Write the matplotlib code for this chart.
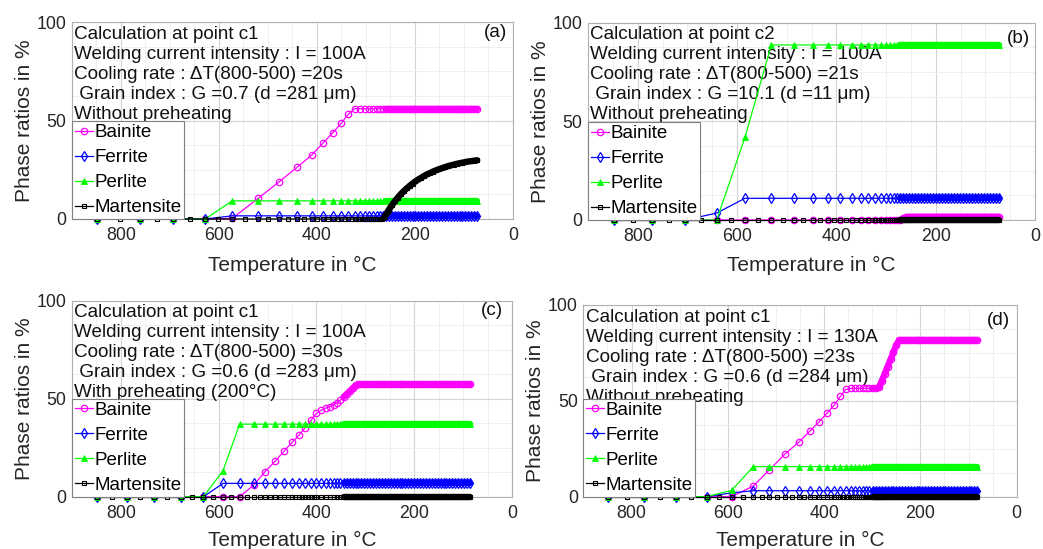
import matplotlib
matplotlib.use('Agg')
import matplotlib.pyplot as plt
from matplotlib.ticker import MultipleLocator

plt.rcParams['font.family'] = ['Liberation Sans', 'DejaVu Sans']

# ---------------- Panel (a) ----------------
T_a = [849, 761, 693, 628, 573, 520, 477, 441, 411, 387,
       367, 350, 336, 323, 312, 302, 293, 285, 278, 271,
       265, 259, 253, 247, 241, 235, 229, 223, 217, 211,
       205, 199, 193, 187, 181, 175, 169, 163, 157, 151,
       145, 139, 133, 127, 121, 115, 109, 103, 97, 91,
       85, 79, 73]
bainite_a = [0, 0, 0, 0, 0.3, 10.5, 18.9, 26.2, 32.4, 38.7,
             43.9, 48.8, 53.2, 56, 56, 56, 56, 56, 56, 56,
             56, 56, 56, 56, 56, 56, 56, 56, 56, 56,
             56, 56, 56, 56, 56, 56, 56, 56, 56, 56,
             56, 56, 56, 56, 56, 56, 56, 56, 56, 56,
             56, 56, 56]
ferrite_a = [0, 0, 0, 0, 1.6, 1.6, 1.6, 1.6, 1.6, 1.6,
             1.6, 1.6, 1.6, 1.6, 1.6, 1.6, 1.6, 1.6, 1.6, 1.6,
             1.6, 1.6, 1.6, 1.6, 1.6, 1.6, 1.6, 1.6, 1.6, 1.6,
             1.6, 1.6, 1.6, 1.6, 1.6, 1.6, 1.6, 1.6, 1.6, 1.6,
             1.6, 1.6, 1.6, 1.6, 1.6, 1.6, 1.6, 1.6, 1.6, 1.6,
             1.6, 1.6, 1.6]
perlite_a = [0, 0, 0, 0, 9.2, 9.2, 9.2, 9.2, 9.2, 9.2,
             9.2, 9.2, 9.2, 9.2, 9.2, 9.2, 9.2, 9.2, 9.2, 9.2,
             9.2, 9.2, 9.2, 9.2, 9.2, 9.2, 9.2, 9.2, 9.2, 9.2,
             9.2, 9.2, 9.2, 9.2, 9.2, 9.2, 9.2, 9.2, 9.2, 9.2,
             9.2, 9.2, 9.2, 9.2, 9.2, 9.2, 9.2, 9.2, 9.2, 9.2,
             9.2, 9.2, 9.2]
Tm_a = [849, 801, 761, 727, 693, 660, 628, 601, 573, 547,
        520, 499, 477, 459, 441, 426, 411, 399, 387, 377,
        367, 358, 350, 343, 336, 329, 323, 317, 312, 307,
        302, 297, 293, 289, 285, 281, 278, 274, 271, 268,
        265, 262, 259, 256, 253, 247, 241, 235, 229, 223,
        217, 211, 205, 199, 193, 187, 181, 175, 169, 163,
        157, 151, 145, 139, 133, 127, 121, 115, 109, 103,
        97, 91, 85, 79, 73]
martensite_a = [0, 0, 0, 0, 0, 0, 0, 0, 0, 0,
                0, 0, 0, 0, 0, 0, 0, 0, 0, 0,
                0, 0, 0, 0, 0, 0, 0, 0, 0, 0,
                0, 0, 0, 0, 0, 0, 0, 0, 0, 0,
                0.3, 1.2, 2.4, 3.6, 4.8, 7.0, 9.0, 10.9, 12.6, 14.1,
                15.5, 16.8, 18.0, 19.1, 20.1, 21.0, 21.9, 22.7, 23.4, 24.1,
                24.7, 25.3, 25.8, 26.3, 26.8, 27.2, 27.6, 28.0, 28.3, 28.6,
                28.9, 29.2, 29.4, 29.6, 29.8]

# ---------------- Panel (b) ----------------
T_b = [848, 771, 704, 641, 584, 531, 486, 448, 417, 392,
       369, 351, 336, 322, 311, 301, 292, 284, 277, 271,
       265, 259, 253, 247, 241, 235, 229, 223, 217, 211,
       205, 199, 193, 187, 181, 175, 169, 163, 157, 151,
       145, 139, 133, 127, 121, 115, 109, 103, 97, 91,
       85, 79, 73]
bainite_b = [0, 0, 0, 0, 0, 0, 0, 0, 0, 0,
             0, 0, 0, 0, 0, 0, 0, 0, 0, 0,
             0.8, 1.6, 1.6, 1.6, 1.6, 1.6, 1.6, 1.6, 1.6, 1.6,
             1.6, 1.6, 1.6, 1.6, 1.6, 1.6, 1.6, 1.6, 1.6, 1.6,
             1.6, 1.6, 1.6, 1.6, 1.6, 1.6, 1.6, 1.6, 1.6, 1.6,
             1.6, 1.6, 1.6]
ferrite_b = [0, 0, 0, 3.5, 11, 11, 11, 11, 11, 11,
             11, 11, 11, 11, 11, 11, 11, 11, 11, 11,
             11, 11, 11, 11, 11, 11, 11, 11, 11, 11,
             11, 11, 11, 11, 11, 11, 11, 11, 11, 11,
             11, 11, 11, 11, 11, 11, 11, 11, 11, 11,
             11, 11, 11]
perlite_b = [0, 0, 0, 0, 41.9, 88.7, 88.7, 88.7, 88.7, 88.7,
             88.7, 88.7, 88.7, 88.7, 88.7, 88.7, 88.7, 88.7, 88.7, 88.7,
             88.7, 88.7, 88.7, 88.7, 88.7, 88.7, 88.7, 88.7, 88.7, 88.7,
             88.7, 88.7, 88.7, 88.7, 88.7, 88.7, 88.7, 88.7, 88.7, 88.7,
             88.7, 88.7, 88.7, 88.7, 88.7, 88.7, 88.7, 88.7, 88.7, 88.7,
             88.7, 88.7, 88.7]
Tm_b = [848, 809, 771, 737, 704, 672, 641, 612, 584, 557,
        531, 508, 486, 467, 448, 432, 417, 404, 392, 380,
        369, 360, 351, 343, 336, 329, 322, 317, 311, 306,
        301, 296, 292, 288, 284, 280, 277, 274, 271, 268,
        265, 262, 259, 256, 253, 247, 241, 235, 229, 223,
        217, 211, 205, 199, 193, 187, 181, 175, 169, 163,
        157, 151, 145, 139, 133, 127, 121, 115, 109, 103,
        97, 91, 85, 79, 73]
martensite_b = [0, 0, 0, 0, 0, 0, 0, 0, 0, 0,
                0, 0, 0, 0, 0, 0, 0, 0, 0, 0,
                0, 0, 0, 0, 0, 0, 0, 0, 0, 0,
                0, 0, 0, 0, 0, 0, 0, 0, 0, 0,
                0, 0, 0, 0, 0, 0, 0, 0, 0, 0,
                0, 0, 0, 0, 0, 0, 0, 0, 0, 0,
                0, 0, 0, 0, 0, 0, 0, 0, 0, 0,
                0, 0, 0, 0, 0]

# ---------------- Panel (c) ----------------
T_c = [849, 788, 732, 678, 631, 591, 557, 528, 505, 484,
       466, 450, 436, 423, 411, 400, 390, 381, 373, 365,
       358, 351, 344, 338, 332, 326, 320, 314, 308, 302,
       296, 290, 284, 278, 272, 266, 260, 254, 248, 242,
       236, 230, 224, 218, 212, 206, 200, 194, 188, 182,
       176, 170, 164, 158, 152, 146, 140, 134, 128, 122,
       116, 110, 104, 98, 92, 86]
bainite_c = [0, 0, 0, 0, 0, 0, 0, 6.0, 12.8, 18.2,
             23.3, 27.7, 31.3, 35.2, 39.0, 42.5, 44.2, 45.2, 46.0, 47.0,
             48.0, 49.3, 51.0, 52.4, 53.8, 55.3, 56.8, 57.3, 57.3, 57.3,
             57.3, 57.3, 57.3, 57.3, 57.3, 57.3, 57.3, 57.3, 57.3, 57.3,
             57.3, 57.3, 57.3, 57.3, 57.3, 57.3, 57.3, 57.3, 57.3, 57.3,
             57.3, 57.3, 57.3, 57.3, 57.3, 57.3, 57.3, 57.3, 57.3, 57.3,
             57.3, 57.3, 57.3, 57.3, 57.3, 57.3]
ferrite_c = [0, 0, 0, 0, 0, 6.8, 6.8, 6.8, 6.8, 6.8,
             6.8, 6.8, 6.8, 6.8, 6.8, 6.8, 6.8, 6.8, 6.8, 6.8,
             6.8, 6.8, 6.8, 6.8, 6.8, 6.8, 6.8, 6.8, 6.8, 6.8,
             6.8, 6.8, 6.8, 6.8, 6.8, 6.8, 6.8, 6.8, 6.8, 6.8,
             6.8, 6.8, 6.8, 6.8, 6.8, 6.8, 6.8, 6.8, 6.8, 6.8,
             6.8, 6.8, 6.8, 6.8, 6.8, 6.8, 6.8, 6.8, 6.8, 6.8,
             6.8, 6.8, 6.8, 6.8, 6.8, 6.8]
perlite_c = [0, 0, 0, 0, 0, 13.3, 37, 37, 37, 37,
             37, 37, 37, 37, 37, 37, 37, 37, 37, 37,
             37, 37, 37, 37, 37, 37, 37, 37, 37, 37,
             37, 37, 37, 37, 37, 37, 37, 37, 37, 37,
             37, 37, 37, 37, 37, 37, 37, 37, 37, 37,
             37, 37, 37, 37, 37, 37, 37, 37, 37, 37,
             37, 37, 37, 37, 37, 37]
Tm_c = [849, 818, 788, 760, 732, 705, 678, 654, 631, 611,
        591, 574, 557, 542, 528, 516, 505, 494, 484, 475,
        466, 458, 450, 443, 436, 429, 423, 417, 411, 405,
        400, 390, 381, 373, 365, 358, 351, 344, 338, 332,
        326, 320, 314, 308, 302, 296, 290, 284, 278, 272,
        266, 260, 254, 248, 242, 236, 230, 224, 218, 212,
        206, 200, 194, 188, 182, 176, 170, 164, 158, 152,
        146, 140, 134, 128, 122, 116, 110, 104, 98, 92,
        86]
martensite_c = [0, 0, 0, 0, 0, 0, 0, 0, 0, 0,
                0, 0, 0, 0, 0, 0, 0, 0, 0, 0,
                0, 0, 0, 0, 0, 0, 0, 0, 0, 0,
                0, 0, 0, 0, 0, 0, 0, 0, 0, 0,
                0, 0, 0, 0, 0, 0, 0, 0, 0, 0,
                0, 0, 0, 0, 0, 0, 0, 0, 0, 0,
                0, 0, 0, 0, 0, 0, 0, 0, 0, 0,
                0, 0, 0, 0, 0, 0, 0, 0, 0, 0,
                0]

# ---------------- Panel (d) ----------------
T_d = [848, 775, 708, 644, 592, 547, 514, 481, 452, 430,
       411, 394, 379, 366, 355, 345, 336, 328, 320, 313,
       306, 299, 292, 286, 280, 274, 268, 262, 256, 250,
       244, 238, 232, 226, 220, 214, 208, 202, 196, 190,
       184, 178, 172, 166, 160, 154, 148, 142, 136, 130,
       124, 118, 112, 106, 100, 94, 88, 82]
bainite_d = [0, 0, 0, 0, 0, 5.6, 13.9, 22.3, 28.6, 34.1,
             38.9, 43.5, 47.8, 52.3, 56.0, 56.5, 56.5, 56.5, 56.5, 56.5,
             56.5, 56.5, 56.5, 57.0, 60.5, 64.2, 67.9, 71.6, 75.3, 79.0,
             81.7, 81.7, 81.7, 81.7, 81.7, 81.7, 81.7, 81.7, 81.7, 81.7,
             81.7, 81.7, 81.7, 81.7, 81.7, 81.7, 81.7, 81.7, 81.7, 81.7,
             81.7, 81.7, 81.7, 81.7, 81.7, 81.7, 81.7, 81.7]
ferrite_d = [0, 0, 0, 0, 2.0, 3.1, 3.1, 3.1, 3.1, 3.1,
             3.1, 3.1, 3.1, 3.1, 3.1, 3.1, 3.1, 3.1, 3.1, 3.1,
             3.1, 3.1, 3.1, 3.1, 3.1, 3.1, 3.1, 3.1, 3.1, 3.1,
             3.1, 3.1, 3.1, 3.1, 3.1, 3.1, 3.1, 3.1, 3.1, 3.1,
             3.1, 3.1, 3.1, 3.1, 3.1, 3.1, 3.1, 3.1, 3.1, 3.1,
             3.1, 3.1, 3.1, 3.1, 3.1, 3.1, 3.1, 3.1]
perlite_d = [0, 0, 0, 0, 3.3, 15.7, 15.7, 15.7, 15.7, 15.7,
             15.7, 15.7, 15.7, 15.7, 15.7, 15.7, 15.7, 15.7, 15.7, 15.7,
             15.7, 15.7, 15.7, 15.7, 15.7, 15.7, 15.7, 15.7, 15.7, 15.7,
             15.7, 15.7, 15.7, 15.7, 15.7, 15.7, 15.7, 15.7, 15.7, 15.7,
             15.7, 15.7, 15.7, 15.7, 15.7, 15.7, 15.7, 15.7, 15.7, 15.7,
             15.7, 15.7, 15.7, 15.7, 15.7, 15.7, 15.7, 15.7]
Tm_d = [848, 810, 775, 740, 708, 676, 644, 618, 592, 569,
        547, 530, 514, 497, 481, 466, 452, 441, 430, 420,
        411, 402, 394, 386, 379, 372, 366, 360, 355, 350,
        345, 340, 336, 332, 328, 324, 320, 316, 313, 309,
        306, 302, 299, 295, 292, 289, 286, 283, 280, 274,
        268, 262, 256, 250, 244, 238, 232, 226, 220, 214,
        208, 202, 196, 190, 184, 178, 172, 166, 160, 154,
        148, 142, 136, 130, 124, 118, 112, 106, 100, 94,
        88, 82]
martensite_d = [0, 0, 0, 0, 0, 0, 0, 0, 0, 0,
                0, 0, 0, 0, 0, 0, 0, 0, 0, 0,
                0, 0, 0, 0, 0, 0, 0, 0, 0, 0,
                0, 0, 0, 0, 0, 0, 0, 0, 0, 0,
                0, 0, 0, 0, 0, 0, 0, 0, 0, 0,
                0, 0, 0, 0, 0, 0, 0, 0, 0, 0,
                0, 0, 0, 0, 0, 0, 0, 0, 0, 0,
                0, 0, 0, 0, 0, 0, 0, 0, 0, 0,
                0, 0]

series_names = ['Bainite', 'Ferrite', 'Perlite', 'Martensite']
x_ticks = [800, 600, 400, 200, 0]
y_ticks = [0, 50, 100]

info_a = ['Calculation at point c1', 'Welding current intensity : I = 100A',
          'Cooling rate : \u0394T(800-500) =20s', ' Grain index : G =0.7 (d =281 \u03bcm)',
          'Without preheating']
info_b = ['Calculation at point c2', 'Welding current intensity : I = 100A',
          'Cooling rate : \u0394T(800-500) =21s', ' Grain index : G =10.1 (d =11 \u03bcm)',
          'Without preheating']
info_c = ['Calculation at point c1', 'Welding current intensity : I = 100A',
          'Cooling rate : \u0394T(800-500) =30s', ' Grain index : G =0.6 (d =283 \u03bcm)',
          'With preheating (200\u00b0C)']
info_d = ['Calculation at point c1', 'Welding current intensity : I = 130A',
          'Cooling rate : \u0394T(800-500) =23s', ' Grain index : G =0.6 (d =284 \u03bcm)',
          'Without preheating']

panels = [
    dict(rect=[0.0690, 0.6011, 0.4228, 0.3588], T=T_a, Tm=Tm_a,
         b=bainite_a, f=ferrite_a, p=perlite_a, m=martensite_a, info=info_a,
         tag='(a)', tagoff=(-4.5, -11.0), band=262, xpad=8),
    dict(rect=[0.5638, 0.5993, 0.4286, 0.3594], T=T_b, Tm=Tm_b,
         b=bainite_b, f=ferrite_b, p=perlite_b, m=martensite_b, info=info_b,
         tag='(b)', tagoff=(-3.6, -14.6), band=272, xpad=8),
    dict(rect=[0.0690, 0.0953, 0.4219, 0.3570], T=T_c, Tm=Tm_c,
         b=bainite_c, f=ferrite_c, p=perlite_c, m=martensite_c, info=info_c,
         tag='(c)', tagoff=(-6.5, -10.0), band=345, xpad=6.5),
    dict(rect=[0.5593, 0.0953, 0.4155, 0.3492], T=T_d, Tm=Tm_d,
         b=bainite_d, f=ferrite_d, p=perlite_d, m=martensite_d, info=info_d,
         tag='(d)', tagoff=(-5.0, -14.4), band=300, xpad=6.5),
]

colors = ['#ff00ff', '#0000ff', '#00ff00', '#000000']

fig = plt.figure(figsize=(10.43, 5.49), dpi=100)
fig.patch.set_facecolor('white')

for P in panels:
    ax = fig.add_axes(P['rect'])
    ax.set_xlim(900, 0)
    ax.set_ylim(0, 100)
    ax.set_xticks(x_ticks)
    ax.set_yticks(y_ticks)
    ax.xaxis.set_minor_locator(MultipleLocator(50))
    ax.yaxis.set_minor_locator(MultipleLocator(12.5))
    ax.set_axisbelow(True)
    ax.grid(which='major', color='#d4d4d4', lw=0.8)
    ax.grid(which='minor', color='#ededed', lw=0.6)
    ax.tick_params(which='both', length=0, labelsize=12.8, colors='#262626')
    ax.tick_params(axis='x', pad=6)
    ax.tick_params(axis='y', pad=4)
    for s in ax.spines.values():
        s.set_color('#b0b0b0')
        s.set_linewidth(0.8)
    ax.set_xlabel('Temperature in \u00b0C', fontsize=15, color='#262626', labelpad=P['xpad'])
    ax.set_ylabel('Phase ratios in %', fontsize=15, color='#262626', labelpad=2)

    kw = dict(lw=0.9, clip_on=False, zorder=3)
    data = [(P['T'], P['b']), (P['T'], P['f']), (P['T'], P['p']), (P['Tm'], P['m'])]
    styles = [dict(marker='o', ms=4.6, mfc='none', mew=0.9),
              dict(marker='d', ms=5.0, mfc='none', mew=0.9),
              dict(marker='^', ms=5.0, mew=0.6),
              dict(marker='s', ms=3.4, mfc='none', mew=0.8)]
    for k in range(4):
        xs, ys = data[k]
        ax.plot(xs, ys, color=colors[k], label=series_names[k], **styles[k], **kw)
        # densely packed markers at the low-temperature end merge into a solid band
        i0 = next(i for i, t in enumerate(xs) if t <= P['band'])
        ax.plot(xs[i0:], ys[i0:], color=colors[k], lw=4.6, solid_capstyle='round',
                solid_joinstyle='round', clip_on=False, zorder=3)

    for i, line in enumerate(P['info']):
        ax.annotate(line, xy=(0, 1), xycoords='axes fraction',
                    xytext=(1.7, -12.0 - 14.4 * i), textcoords='offset points',
                    ha='left', va='baseline', fontsize=13.6, color='#111111',
                    zorder=1)
    ax.annotate(P['tag'], xy=(1, 1), xycoords='axes fraction',
                xytext=P['tagoff'], textcoords='offset points',
                ha='right', va='baseline', fontsize=13.6, color='#111111', zorder=1)

    leg = ax.legend(loc='lower left', bbox_to_anchor=(0, 0), borderaxespad=0,
                    fontsize=13.5, frameon=True, fancybox=False, framealpha=1,
                    edgecolor='#7f7f7f', handlelength=0.95, handletextpad=0.08,
                    borderpad=0.15, labelspacing=0.42)
    leg.get_frame().set_linewidth(0.8)
    leg.set_zorder(10)

fig.savefig('out.png', dpi=100, facecolor='white')
